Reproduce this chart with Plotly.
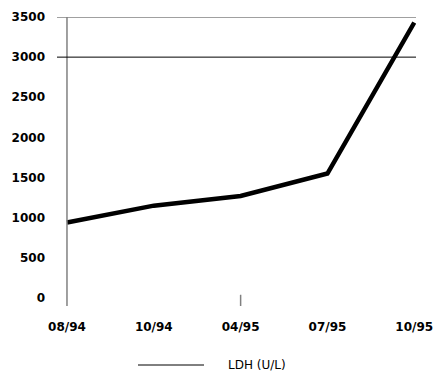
import plotly.graph_objects as go

categories = ["08/94", "10/94", "04/95", "07/95", "10/95"]
ldh_values = [940, 1150, 1270, 1550, 3430]
y_ticks = [0, 500, 1000, 1500, 2000, 2500, 3000, 3500]
series_name = "LDH (U/L)"

xpos = list(range(len(categories)))
FONT = dict(family="DejaVu Sans, Verdana, sans-serif", size=12, color="black", weight="bold")

fig = go.Figure()
fig.add_trace(go.Scatter(x=xpos, y=ldh_values, mode="lines",
                         line=dict(color="black", width=4.5), showlegend=False,
                         name=series_name))

fig.update_layout(
    width=435, height=379,
    margin=dict(l=57, r=19, t=17, b=73, autoexpand=False),
    paper_bgcolor="white", plot_bgcolor="white",
    showlegend=False,
    xaxis=dict(range=[-0.115, 4.02], tickvals=xpos, ticktext=categories,
               showgrid=False, zeroline=False, showline=False, ticks="",
               ticklabelstandoff=12, tickfont=FONT, fixedrange=True, automargin=False),
    yaxis=dict(range=[-100, 3500], tickvals=y_ticks, showgrid=False, zeroline=False,
               showline=False, ticks="", ticklabelstandoff=11, tickfont=FONT,
               fixedrange=True, automargin=False),
)

# y-axis line at first category
fig.add_shape(type="line", xref="x", yref="paper", x0=0, x1=0, y0=0, y1=1,
              line=dict(color="#808080", width=1.5))
# top border line at 3500
fig.add_shape(type="line", xref="paper", yref="y", x0=0, x1=1, y0=3500, y1=3500,
              line=dict(color="#808080", width=1.5))
# reference line at 3000
fig.add_shape(type="line", xref="paper", yref="y", x0=0, x1=1, y0=3000, y1=3000,
              line=dict(color="black", width=1))
# small tick at 04/95
fig.add_shape(type="line", xref="x", yref="y", x0=2, x1=2, y0=-100, y1=40,
              line=dict(color="#808080", width=1.5))

# manual legend
fig.add_shape(type="line", xref="paper", yref="paper",
              x0=(138 - 57) / 359, x1=(204 - 57) / 359,
              y0=-(365 - 306) / 289, y1=-(365 - 306) / 289,
              line=dict(color="black", width=1))
fig.add_annotation(text=series_name, xref="paper", yref="paper",
                   x=(226 - 57) / 359, y=-(365 - 306) / 289,
                   xanchor="left", yanchor="middle", showarrow=False,
                   font=dict(family="DejaVu Sans, Verdana, sans-serif", size=12, color="black"))

fig.write_html("out.html", config={"displayModeBar": False},
               post_script="document.body.style.margin='0';document.body.style.overflow='hidden';")
